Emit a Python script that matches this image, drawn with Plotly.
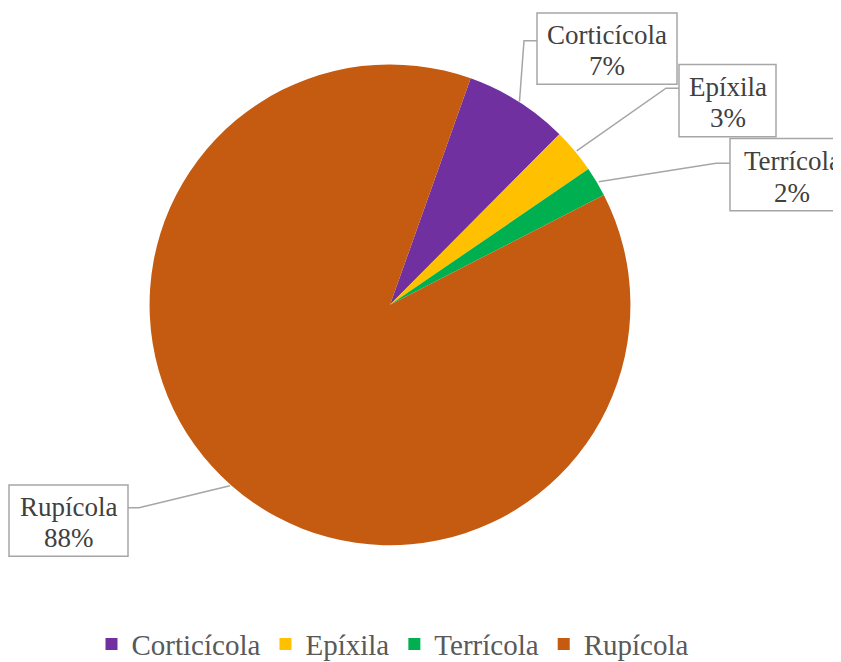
import math
import plotly.graph_objects as go

# ---- data ----
categories = ["Corticícola", "Epíxila", "Terrícola", "Rupícola"]
values = [7, 3, 2, 88]
colors = ["#7030A0", "#FFC000", "#00B050", "#C55A11"]

# ---- layout constants (pixels, in reference-image coordinates) ----
W, H = 841, 662
OFF = 8  # page body margin offset
CX, CY, R = 390, 308, 243
ROTATION = 19.6
SERIF = "Liberation Serif"
LINE_GAP = 16
TEXT_SHIFT = 2

# label boxes: (left, top, right, bottom), elbow point, box-edge point
boxes = {
    "Corticícola": ((537, 13, 677, 85), (524, 41), (537, 41)),
    "Epíxila": ((679, 65, 776, 138), (666, 89), (679, 89)),
    "Terrícola": ((730, 140, 854, 213), (716, 165), (730, 165)),
    "Rupícola": ((9, 490, 128, 562), (139, 513), (128, 513)),
}


def px(x):
    return (x - OFF) / W


def py(y):
    return (H - (y - OFF)) / H


fig = go.Figure(
    go.Pie(
        labels=categories,
        values=values,
        marker=dict(colors=colors, line=dict(width=0)),
        sort=False,
        direction="clockwise",
        rotation=ROTATION,
        textinfo="none",
        hoverinfo="label+percent",
        domain=dict(x=[px(CX - R), px(CX + R)], y=[py(CY + R), py(CY - R)]),
    )
)

total = sum(values)
annotations = []
shapes = []
cum = 0.0
for cat, v in zip(categories, values):
    mid = ROTATION + 360.0 * (cum + v / 2) / total
    cum += v
    ax = CX + R * math.sin(math.radians(mid))
    ay = CY - R * math.cos(math.radians(mid))
    (l, t, r, b), (ex, ey), (kx, ky) = boxes[cat]
    pct = round(100 * v / total)
    cx, cy = (l + r) / 2, (t + b) / 2 + TEXT_SHIFT
    # leader line
    shapes.append(
        dict(
            type="path", xref="paper", yref="paper",
            path=f"M {px(ax)} {py(ay)} L {px(ex)} {py(ey)} L {px(kx)} {py(ky)}",
            line=dict(color="#A6A6A6", width=1.5),
        )
    )
    # label box
    shapes.append(
        dict(
            type="rect", xref="paper", yref="paper",
            x0=px(l), x1=px(r), y0=py(b), y1=py(t),
            line=dict(color="#A6A6A6", width=1.5), fillcolor="white",
        )
    )
    for txt, yy in ((cat, cy - LINE_GAP), (f"{pct}%", cy + LINE_GAP)):
        annotations.append(
            dict(
                x=px(cx), y=py(yy), xref="paper", yref="paper",
                xanchor="center", yanchor="middle",
                text=txt, showarrow=False,
                font=dict(family=SERIF, size=27, color="#404040"),
            )
        )

fig.update_layout(
    width=W, height=H,
    margin=dict(l=0, r=0, t=0, b=0),
    paper_bgcolor="white",
    plot_bgcolor="white",
    showlegend=True,
    legend=dict(
        orientation="h", x=px(393), xanchor="center", y=py(651), yanchor="middle",
        font=dict(family=SERIF, size=29, color="#595959"),
        itemwidth=30, traceorder="normal",
    ),
    annotations=annotations,
    shapes=shapes,
)

fig.write_html("out.html")
